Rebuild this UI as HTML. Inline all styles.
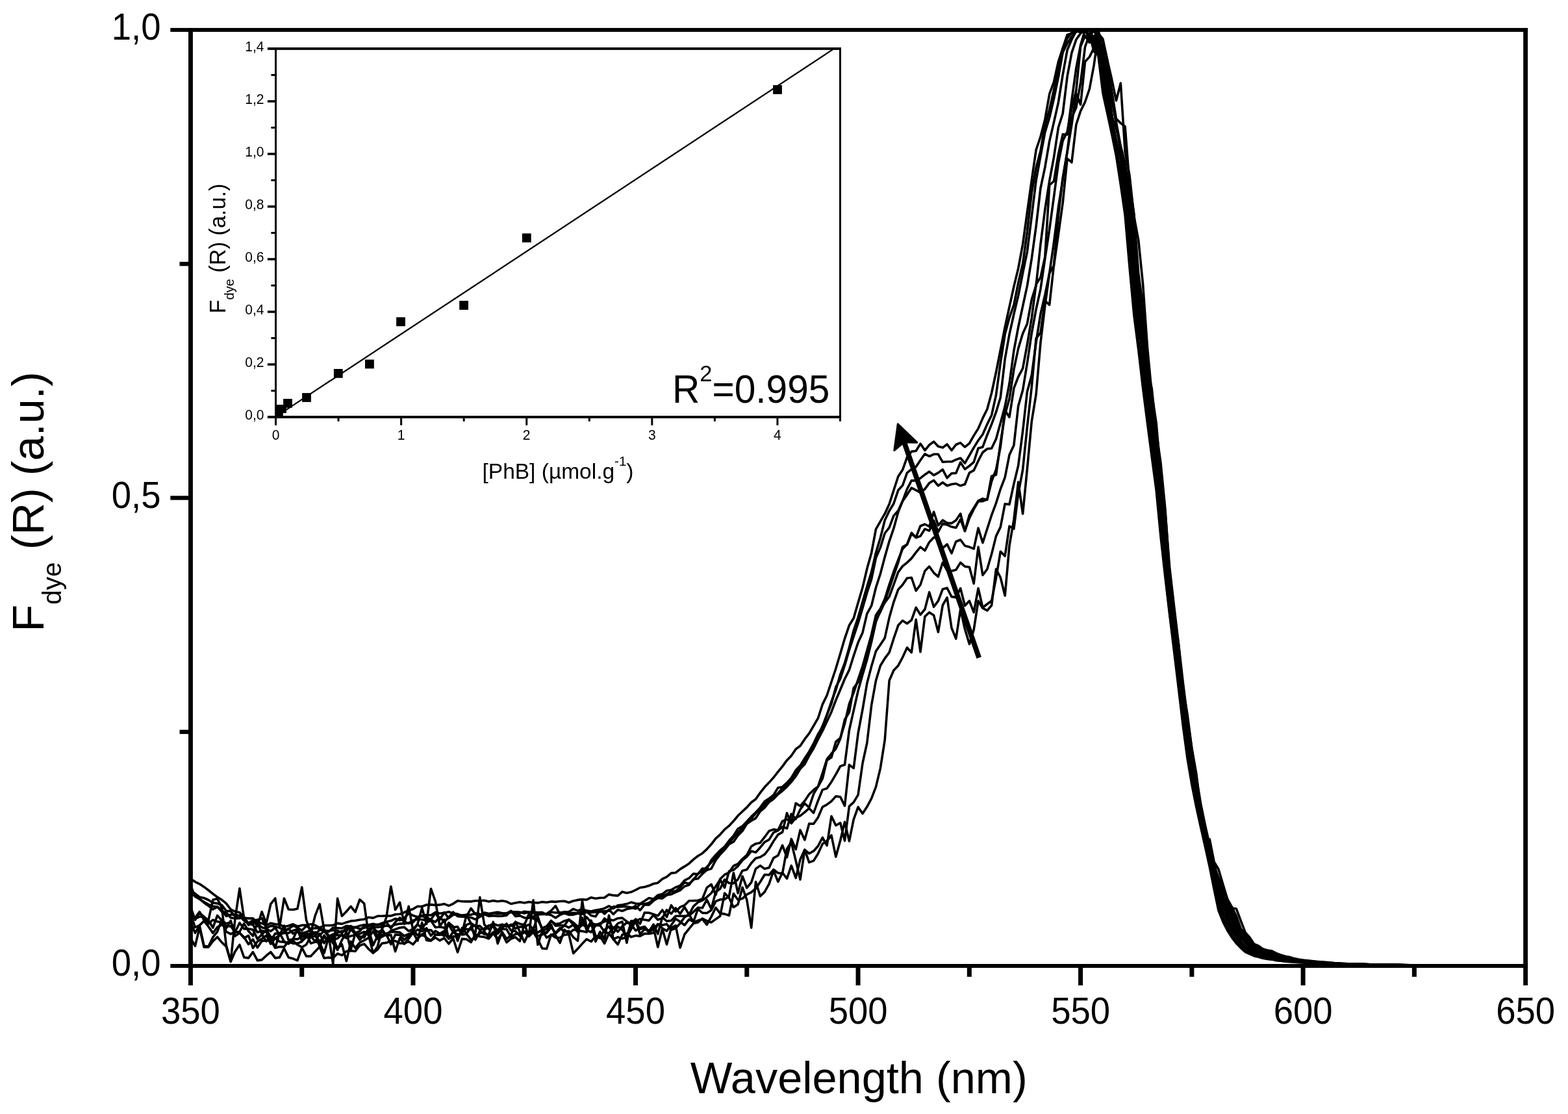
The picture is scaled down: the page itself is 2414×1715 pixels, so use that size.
<!DOCTYPE html>
<html lang="en"><head><meta charset="utf-8"><title>F dye (R) vs Wavelength</title>
<style>html,body{margin:0;padding:0;background:#fff;}body{width:2414px;height:1715px;overflow:hidden;}svg{display:block;}text{font-family:'Liberation Sans', sans-serif;fill:#000;}</style>
</head><body>
<svg width="2414" height="1715" viewBox="0 0 2414 1715">
<rect x="0" y="0" width="2414" height="1715" fill="#fff"/>
<g fill="none" stroke="#000" stroke-width="3.6" stroke-linejoin="round" stroke-linecap="round">
<polyline points="293.5,1352.9 300.4,1357.6 307.2,1360.8 314.1,1365.4 320.9,1370.5 327.8,1376.0 334.6,1381.1 341.5,1385.3 348.3,1390.8 355.2,1400.0 362.0,1403.3 368.9,1404.7 375.7,1413.0 382.6,1413.9 389.4,1413.9 396.3,1420.4 403.1,1421.4 410.0,1424.6 416.8,1421.2 423.7,1422.8 430.5,1423.3 437.4,1426.8 444.2,1425.2 451.1,1422.8 457.9,1426.2 464.8,1424.4 471.6,1424.3 478.5,1422.8 485.3,1424.6 492.2,1428.3 499.0,1424.7 505.9,1424.7 512.7,1424.5 519.6,1421.4 526.4,1422.4 533.3,1419.9 540.1,1417.9 547.0,1417.3 553.8,1416.0 560.7,1415.2 567.5,1412.2 574.4,1413.1 581.2,1410.3 588.1,1410.3 594.9,1409.8 601.8,1410.0 608.6,1407.7 615.5,1407.3 622.3,1404.7 629.2,1401.4 636.0,1399.4 642.9,1395.3 649.7,1395.5 656.6,1393.0 663.4,1392.6 670.3,1393.5 677.1,1392.9 684.0,1391.6 690.8,1394.4 697.7,1391.3 704.5,1386.8 711.4,1387.7 718.2,1387.9 725.1,1387.9 731.9,1386.8 738.8,1386.7 745.6,1386.2 752.5,1388.0 759.3,1386.6 766.2,1387.7 773.0,1386.8 779.9,1388.1 786.7,1391.5 793.6,1390.0 800.4,1388.8 807.3,1390.0 814.2,1388.5 821.0,1389.5 827.9,1389.9 834.7,1388.5 841.6,1389.2 848.4,1387.9 855.3,1388.4 862.1,1387.5 869.0,1387.2 875.8,1389.5 882.7,1386.9 889.5,1385.4 896.4,1384.6 903.2,1385.2 910.1,1381.7 916.9,1383.3 923.8,1382.3 930.6,1382.0 937.5,1377.0 944.3,1378.4 951.2,1378.9 958.0,1372.9 964.9,1374.8 971.7,1373.3 978.6,1370.1 985.4,1366.5 992.3,1365.5 999.1,1363.6 1006.0,1360.5 1012.8,1359.2 1019.7,1353.1 1026.5,1349.9 1033.4,1344.1 1040.2,1343.5 1047.1,1338.1 1053.9,1333.9 1060.8,1329.4 1067.6,1323.1 1074.5,1317.8 1081.3,1313.7 1088.2,1307.4 1095.0,1299.8 1101.9,1290.8 1108.7,1284.8 1115.6,1276.9 1122.4,1271.4 1129.3,1264.0 1136.1,1255.8 1143.0,1249.3 1149.8,1242.9 1156.7,1235.2 1163.5,1230.2 1170.4,1220.4 1177.2,1211.8 1184.1,1204.6 1190.9,1197.0 1197.8,1188.1 1204.6,1179.9 1211.5,1170.4 1218.3,1163.5 1225.2,1153.2 1232.0,1148.3 1238.9,1137.9 1245.7,1129.2 1252.6,1117.3 1259.4,1105.7 1266.3,1084.4 1273.1,1070.5 1280.0,1049.8 1286.8,1029.3 1293.7,1006.2 1300.5,983.1 1307.4,962.8 1314.2,951.7 1321.1,927.7 1328.0,904.6 1334.8,875.6 1341.7,850.9 1348.5,814.6 1355.4,802.6 1362.2,790.9 1369.1,776.0 1375.9,754.7 1382.8,733.5 1389.6,723.3 1396.5,703.9 1403.3,695.1 1410.2,694.2 1417.0,683.1 1423.9,693.3 1430.7,685.0 1437.6,679.9 1444.4,687.3 1451.3,689.1 1458.1,684.0 1465.0,693.3 1471.8,684.5 1478.7,681.7 1485.5,688.2 1492.4,682.7 1499.2,670.6 1506.1,659.6 1512.9,643.9 1519.8,630.0 1526.6,605.0 1533.5,573.0 1540.3,538.7 1547.2,503.6 1554.0,472.3 1560.9,441.1 1567.7,413.1 1574.6,376.2 1581.4,326.7 1588.3,277.4 1595.1,230.8 1602.0,210.2 1608.8,183.9 1615.7,144.7 1622.5,126.0 1629.4,95.0 1636.2,74.1 1643.1,53.5 1649.9,51.4 1656.8,48.1 1663.6,49.5 1670.5,46.0 1677.3,60.5 1684.2,70.6 1691.0,86.8 1697.9,143.4 1704.7,174.1 1711.6,206.0 1718.4,239.6 1725.3,284.3 1732.1,331.5 1739.0,411.4 1745.8,484.9 1752.7,538.6 1759.5,597.1 1766.4,650.9 1773.2,703.0 1780.1,754.6 1786.9,825.7 1793.8,887.7 1800.6,945.7 1807.5,1002.2 1814.3,1058.9 1821.2,1116.7 1828.0,1167.5 1834.9,1208.2 1841.8,1242.7 1848.6,1273.4 1855.5,1303.8 1862.3,1334.8 1869.2,1369.5 1876.0,1401.9 1882.9,1419.2 1889.7,1432.5 1896.6,1443.4 1903.4,1452.2 1910.3,1459.3 1917.1,1465.5 1924.0,1468.6 1930.8,1471.7 1937.7,1473.3 1944.5,1475.2 1951.4,1476.4 1958.2,1477.1 1965.1,1478.7 1971.9,1479.3 1978.8,1480.1 1985.6,1480.7 1992.5,1481.2 1999.3,1481.6 2006.2,1481.9 2013.0,1482.2 2019.9,1482.5 2026.7,1482.7 2033.6,1482.9 2040.4,1483.1 2047.3,1483.3 2054.1,1483.5 2061.0,1483.7 2067.8,1483.9 2074.7,1484.1 2081.5,1484.3 2088.4,1484.5 2095.2,1484.7 2102.1,1484.8 2108.9,1484.9 2115.8,1485.1 2122.6,1485.2 2129.5,1485.3 2136.3,1485.4 2143.2,1485.5 2150.0,1485.6 2156.9,1485.7 2163.7,1485.8 2170.6,1485.9 2177.4,1485.9 2184.3,1486.0 2191.1,1486.0 2198.0,1486.0 2204.8,1486.0 2211.7,1486.0 2218.5,1486.0 2225.4,1486.0 2232.2,1486.0 2239.1,1486.0 2245.9,1486.0 2252.8,1486.0 2259.6,1486.0 2266.5,1486.0 2273.3,1486.0 2280.2,1486.0 2287.0,1486.0 2293.9,1486.0 2300.7,1486.0 2307.6,1486.0 2314.4,1486.0 2321.3,1486.0 2328.1,1486.0 2335.0,1486.0 2341.8,1486.0 2348.7,1486.0"/>
<polyline points="293.5,1372.4 300.4,1375.6 307.2,1381.1 314.1,1382.5 320.9,1385.5 327.8,1389.9 334.6,1390.9 341.5,1393.4 348.3,1402.3 355.2,1402.9 362.0,1410.9 368.9,1409.2 375.7,1412.3 382.6,1424.2 389.4,1417.8 396.3,1416.1 403.1,1413.6 410.0,1428.8 416.8,1425.4 423.7,1426.4 430.5,1428.3 437.4,1432.0 444.2,1430.3 451.1,1425.0 457.9,1427.9 464.8,1432.4 471.6,1425.5 478.5,1430.2 485.3,1428.7 492.2,1429.3 499.0,1431.9 505.9,1434.3 512.7,1428.2 519.6,1428.7 526.4,1429.1 533.3,1425.2 540.1,1426.3 547.0,1428.0 553.8,1425.2 560.7,1423.8 567.5,1423.8 574.4,1422.3 581.2,1424.1 588.1,1421.1 594.9,1418.9 601.8,1417.6 608.6,1414.3 615.5,1416.9 622.3,1413.2 629.2,1406.3 636.0,1409.5 642.9,1411.7 649.7,1409.7 656.6,1408.5 663.4,1409.0 670.3,1404.4 677.1,1406.2 684.0,1405.4 690.8,1403.8 697.7,1406.2 704.5,1407.1 711.4,1410.1 718.2,1410.9 725.1,1398.4 731.9,1407.5 738.8,1409.2 745.6,1405.0 752.5,1406.6 759.3,1405.4 766.2,1404.2 773.0,1405.8 779.9,1406.1 786.7,1404.6 793.6,1403.9 800.4,1404.2 807.3,1405.9 814.2,1404.2 821.0,1404.0 827.9,1404.9 834.7,1404.6 841.6,1408.0 848.4,1404.3 855.3,1405.0 862.1,1405.1 869.0,1404.0 875.8,1403.7 882.7,1399.4 889.5,1402.2 896.4,1399.2 903.2,1402.1 910.1,1403.1 916.9,1401.3 923.8,1400.3 930.6,1398.4 937.5,1394.9 944.3,1398.6 951.2,1393.7 958.0,1393.1 964.9,1391.6 971.7,1389.1 978.6,1391.1 985.4,1391.2 992.3,1387.1 999.1,1382.6 1006.0,1384.0 1012.8,1378.0 1019.7,1376.5 1026.5,1371.3 1033.4,1370.1 1040.2,1366.0 1047.1,1363.5 1053.9,1355.3 1060.8,1351.9 1067.6,1345.1 1074.5,1345.7 1081.3,1337.1 1088.2,1337.6 1095.0,1324.2 1101.9,1316.3 1108.7,1309.2 1115.6,1303.4 1122.4,1294.2 1129.3,1286.6 1136.1,1276.1 1143.0,1271.7 1149.8,1264.7 1156.7,1257.1 1163.5,1250.7 1170.4,1243.1 1177.2,1233.8 1184.1,1229.3 1190.9,1223.9 1197.8,1212.7 1204.6,1211.4 1211.5,1205.1 1218.3,1197.4 1225.2,1185.8 1232.0,1178.6 1238.9,1167.4 1245.7,1157.2 1252.6,1144.5 1259.4,1130.2 1266.3,1119.5 1273.1,1100.5 1280.0,1080.0 1286.8,1062.2 1293.7,1038.3 1300.5,1020.6 1307.4,997.0 1314.2,970.8 1321.1,950.6 1328.0,926.6 1334.8,903.0 1341.7,880.3 1348.5,850.7 1355.4,828.0 1362.2,801.0 1369.1,786.5 1375.9,775.2 1382.8,754.7 1389.6,747.3 1396.5,727.9 1403.3,722.4 1410.2,718.7 1417.0,708.5 1423.9,698.8 1430.7,702.5 1437.6,699.3 1444.4,699.3 1451.3,711.3 1458.1,710.8 1465.0,710.8 1471.8,707.6 1478.7,705.3 1485.5,713.1 1492.4,701.1 1499.2,689.1 1506.1,678.0 1512.9,668.8 1519.8,653.1 1526.6,639.2 1533.5,608.1 1540.3,558.6 1547.2,514.4 1554.0,489.1 1560.9,469.3 1567.7,435.3 1574.6,405.9 1581.4,356.9 1588.3,296.8 1595.1,258.4 1602.0,232.1 1608.8,192.5 1615.7,168.9 1622.5,138.5 1629.4,105.6 1636.2,74.5 1643.1,59.1 1649.9,50.4 1656.8,49.0 1663.6,46.0 1670.5,48.0 1677.3,52.5 1684.2,79.4 1691.0,83.7 1697.9,133.8 1704.7,169.6 1711.6,203.0 1718.4,236.9 1725.3,271.8 1732.1,319.6 1739.0,395.7 1745.8,475.6 1752.7,531.7 1759.5,588.2 1766.4,639.5 1773.2,690.9 1780.1,747.2 1786.9,819.1 1793.8,879.9 1800.6,942.5 1807.5,995.4 1814.3,1050.9 1821.2,1109.8 1828.0,1163.6 1834.9,1202.8 1841.8,1238.7 1848.6,1270.2 1855.5,1301.9 1862.3,1328.1 1869.2,1362.1 1876.0,1391.3 1882.9,1412.8 1889.7,1427.5 1896.6,1439.9 1903.4,1450.0 1910.3,1456.4 1917.1,1463.4 1924.0,1467.3 1930.8,1469.4 1937.7,1472.5 1944.5,1474.0 1951.4,1475.9 1958.2,1476.8 1965.1,1478.0 1971.9,1479.2 1978.8,1479.6 1985.6,1480.3 1992.5,1480.9 1999.3,1481.3 2006.2,1481.7 2013.0,1482.1 2019.9,1482.4 2026.7,1482.6 2033.6,1482.9 2040.4,1483.1 2047.3,1483.3 2054.1,1483.5 2061.0,1483.7 2067.8,1483.9 2074.7,1484.1 2081.5,1484.3 2088.4,1484.5 2095.2,1484.6 2102.1,1484.8 2108.9,1484.9 2115.8,1485.0 2122.6,1485.1 2129.5,1485.3 2136.3,1485.4 2143.2,1485.5 2150.0,1485.6 2156.9,1485.7 2163.7,1485.8 2170.6,1485.9 2177.4,1485.9 2184.3,1486.0 2191.1,1486.0 2198.0,1486.0 2204.8,1486.0 2211.7,1486.0 2218.5,1486.0 2225.4,1486.0 2232.2,1486.0 2239.1,1486.0 2245.9,1486.0 2252.8,1486.0 2259.6,1486.0 2266.5,1486.0 2273.3,1486.0 2280.2,1486.0 2287.0,1486.0 2293.9,1486.0 2300.7,1486.0 2307.6,1486.0 2314.4,1486.0 2321.3,1486.0 2328.1,1486.0 2335.0,1486.0 2341.8,1486.0 2348.7,1486.0"/>
<polyline points="293.5,1375.6 300.4,1379.5 307.2,1384.3 314.1,1388.5 320.9,1392.4 327.8,1395.3 334.6,1396.0 341.5,1400.8 348.3,1410.5 355.2,1408.1 362.0,1407.9 368.9,1410.0 375.7,1417.3 382.6,1422.1 389.4,1421.3 396.3,1421.2 403.1,1427.7 410.0,1429.8 416.8,1433.7 423.7,1428.2 430.5,1439.7 437.4,1434.9 444.2,1429.7 451.1,1437.4 457.9,1434.8 464.8,1436.4 471.6,1435.0 478.5,1431.5 485.3,1438.5 492.2,1431.3 499.0,1432.9 505.9,1433.3 512.7,1432.0 519.6,1432.5 526.4,1436.5 533.3,1428.0 540.1,1430.9 547.0,1427.1 553.8,1430.0 560.7,1428.5 567.5,1425.4 574.4,1424.3 581.2,1423.3 588.1,1423.7 594.9,1419.7 601.8,1429.1 608.6,1419.6 615.5,1412.8 622.3,1419.1 629.2,1421.6 636.0,1419.7 642.9,1411.8 649.7,1410.4 656.6,1412.1 663.4,1415.8 670.3,1405.4 677.1,1415.8 684.0,1404.7 690.8,1413.6 697.7,1408.3 704.5,1408.3 711.4,1409.0 718.2,1408.3 725.1,1408.2 731.9,1406.1 738.8,1407.2 745.6,1407.9 752.5,1409.1 759.3,1405.4 766.2,1406.8 773.0,1406.3 779.9,1406.2 786.7,1402.6 793.6,1406.9 800.4,1405.9 807.3,1403.3 814.2,1404.4 821.0,1405.4 827.9,1405.9 834.7,1407.3 841.6,1406.8 848.4,1402.1 855.3,1394.6 862.1,1407.9 869.0,1403.7 875.8,1406.4 882.7,1405.2 889.5,1406.0 896.4,1403.1 903.2,1404.4 910.1,1404.7 916.9,1404.3 923.8,1403.8 930.6,1402.9 937.5,1402.2 944.3,1395.9 951.2,1396.1 958.0,1395.6 964.9,1395.7 971.7,1397.0 978.6,1399.1 985.4,1391.8 992.3,1391.8 999.1,1390.0 1006.0,1384.8 1012.8,1379.2 1019.7,1379.8 1026.5,1376.5 1033.4,1372.5 1040.2,1371.9 1047.1,1366.1 1053.9,1358.4 1060.8,1360.7 1067.6,1354.7 1074.5,1345.0 1081.3,1341.7 1088.2,1334.7 1095.0,1327.8 1101.9,1320.2 1108.7,1310.9 1115.6,1306.7 1122.4,1298.1 1129.3,1289.3 1136.1,1282.3 1143.0,1274.3 1149.8,1267.2 1156.7,1260.3 1163.5,1252.2 1170.4,1245.3 1177.2,1238.7 1184.1,1231.2 1190.9,1225.5 1197.8,1221.4 1204.6,1212.9 1211.5,1209.5 1218.3,1199.2 1225.2,1191.0 1232.0,1182.0 1238.9,1172.6 1245.7,1161.4 1252.6,1148.6 1259.4,1132.9 1266.3,1117.6 1273.1,1100.5 1280.0,1083.2 1286.8,1057.7 1293.7,1045.0 1300.5,1024.3 1307.4,1000.6 1314.2,979.9 1321.1,959.2 1328.0,936.0 1334.8,912.4 1341.7,891.5 1348.5,858.9 1355.4,842.9 1362.2,821.0 1369.1,812.2 1375.9,793.9 1382.8,786.3 1389.6,771.3 1396.5,752.9 1403.3,739.9 1410.2,739.9 1417.0,736.2 1423.9,730.7 1430.7,726.1 1437.6,731.6 1444.4,727.9 1451.3,722.8 1458.1,735.8 1465.0,728.8 1471.8,728.4 1478.7,711.8 1485.5,722.4 1492.4,717.3 1499.2,711.3 1506.1,690.0 1512.9,688.2 1519.8,669.7 1526.6,653.1 1533.5,634.4 1540.3,611.7 1547.2,552.5 1554.0,514.7 1560.9,483.5 1567.7,455.1 1574.6,420.5 1581.4,387.6 1588.3,333.0 1595.1,277.6 1602.0,240.0 1608.8,203.6 1615.7,181.0 1622.5,151.9 1629.4,118.7 1636.2,80.6 1643.1,66.7 1649.9,56.6 1656.8,48.5 1663.6,46.7 1670.5,47.6 1677.3,46.1 1684.2,65.9 1691.0,82.7 1697.9,116.9 1704.7,157.3 1711.6,192.2 1718.4,229.8 1725.3,263.5 1732.1,307.6 1739.0,370.5 1745.8,452.4 1752.7,524.7 1759.5,568.3 1766.4,621.6 1773.2,679.1 1780.1,735.0 1786.9,802.7 1793.8,865.9 1800.6,926.2 1807.5,987.5 1814.3,1041.3 1821.2,1099.6 1828.0,1152.3 1834.9,1195.1 1841.8,1231.8 1848.6,1259.2 1855.5,1295.8 1862.3,1324.5 1869.2,1350.1 1876.0,1381.1 1882.9,1404.3 1889.7,1419.9 1896.6,1433.5 1903.4,1444.3 1910.3,1453.1 1917.1,1459.1 1924.0,1464.2 1930.8,1467.3 1937.7,1469.1 1944.5,1471.9 1951.4,1474.7 1958.2,1475.7 1965.1,1477.0 1971.9,1478.3 1978.8,1479.3 1985.6,1479.7 1992.5,1480.3 1999.3,1480.9 2006.2,1481.4 2013.0,1481.8 2019.9,1482.1 2026.7,1482.4 2033.6,1482.7 2040.4,1483.0 2047.3,1483.2 2054.1,1483.4 2061.0,1483.7 2067.8,1483.9 2074.7,1484.1 2081.5,1484.2 2088.4,1484.4 2095.2,1484.6 2102.1,1484.7 2108.9,1484.9 2115.8,1485.0 2122.6,1485.1 2129.5,1485.2 2136.3,1485.4 2143.2,1485.5 2150.0,1485.6 2156.9,1485.7 2163.7,1485.8 2170.6,1485.9 2177.4,1485.9 2184.3,1486.0 2191.1,1486.0 2198.0,1486.0 2204.8,1486.0 2211.7,1486.0 2218.5,1486.0 2225.4,1486.0 2232.2,1486.0 2239.1,1486.0 2245.9,1486.0 2252.8,1486.0 2259.6,1486.0 2266.5,1486.0 2273.3,1486.0 2280.2,1486.0 2287.0,1486.0 2293.9,1486.0 2300.7,1486.0 2307.6,1486.0 2314.4,1486.0 2321.3,1486.0 2328.1,1486.0 2335.0,1486.0 2341.8,1486.0 2348.7,1486.0"/>
<polyline points="293.5,1363.1 300.4,1380.4 307.2,1383.7 314.1,1389.7 320.9,1394.4 327.8,1400.0 334.6,1396.1 341.5,1403.6 348.3,1404.8 355.2,1412.7 362.0,1413.9 368.9,1413.7 375.7,1411.9 382.6,1421.9 389.4,1423.7 396.3,1435.4 403.1,1432.8 410.0,1434.7 416.8,1448.3 423.7,1437.1 430.5,1437.8 437.4,1436.5 444.2,1436.4 451.1,1432.7 457.9,1430.4 464.8,1440.4 471.6,1439.2 478.5,1437.4 485.3,1435.1 492.2,1439.7 499.0,1433.2 505.9,1442.0 512.7,1438.4 519.6,1435.9 526.4,1433.5 533.3,1433.5 540.1,1425.6 547.0,1436.3 553.8,1433.5 560.7,1426.0 567.5,1429.8 574.4,1427.3 581.2,1427.5 588.1,1426.8 594.9,1424.9 601.8,1426.4 608.6,1423.4 615.5,1422.1 622.3,1421.6 629.2,1421.1 636.0,1417.0 642.9,1415.2 649.7,1415.8 656.6,1417.0 663.4,1416.2 670.3,1419.3 677.1,1412.0 684.0,1419.0 690.8,1412.4 697.7,1404.2 704.5,1410.7 711.4,1411.2 718.2,1411.5 725.1,1412.5 731.9,1415.4 738.8,1411.5 745.6,1407.6 752.5,1410.4 759.3,1409.8 766.2,1410.4 773.0,1410.1 779.9,1409.2 786.7,1402.3 793.6,1410.6 800.4,1409.6 807.3,1412.9 814.2,1413.1 821.0,1411.3 827.9,1407.9 834.7,1407.4 841.6,1407.3 848.4,1408.8 855.3,1413.0 862.1,1408.4 869.0,1406.1 875.8,1408.4 882.7,1408.1 889.5,1406.3 896.4,1407.1 903.2,1403.5 910.1,1409.5 916.9,1410.9 923.8,1400.2 930.6,1406.9 937.5,1400.2 944.3,1407.4 951.2,1400.5 958.0,1402.5 964.9,1399.5 971.7,1398.3 978.6,1394.6 985.4,1401.3 992.3,1392.7 999.1,1393.2 1006.0,1386.7 1012.8,1382.4 1019.7,1383.1 1026.5,1378.0 1033.4,1376.8 1040.2,1373.5 1047.1,1370.6 1053.9,1364.5 1060.8,1362.4 1067.6,1353.4 1074.5,1352.8 1081.3,1345.4 1088.2,1339.5 1095.0,1337.4 1101.9,1324.2 1108.7,1315.4 1115.6,1308.3 1122.4,1299.6 1129.3,1296.0 1136.1,1286.3 1143.0,1279.2 1149.8,1268.2 1156.7,1263.5 1163.5,1259.6 1170.4,1249.0 1177.2,1243.3 1184.1,1234.7 1190.9,1230.0 1197.8,1222.7 1204.6,1217.5 1211.5,1211.1 1218.3,1203.6 1225.2,1194.8 1232.0,1183.5 1238.9,1176.4 1245.7,1163.3 1252.6,1152.0 1259.4,1138.1 1266.3,1125.2 1273.1,1110.8 1280.0,1095.9 1286.8,1078.0 1293.7,1061.7 1300.5,1045.3 1307.4,1031.4 1314.2,1009.7 1321.1,989.1 1328.0,973.9 1334.8,944.9 1341.7,932.4 1348.5,904.5 1355.4,883.2 1362.2,857.5 1369.1,833.3 1375.9,813.4 1382.8,788.3 1389.6,771.4 1396.5,761.6 1403.3,751.0 1410.2,754.7 1417.0,758.4 1423.9,752.9 1430.7,743.6 1437.6,739.5 1444.4,747.8 1451.3,742.7 1458.1,747.8 1465.0,745.5 1471.8,744.5 1478.7,747.8 1485.5,745.5 1492.4,727.9 1499.2,724.2 1506.1,709.4 1512.9,696.5 1519.8,691.0 1526.6,690.3 1533.5,675.8 1540.3,651.3 1547.2,625.5 1554.0,590.4 1560.9,539.8 1567.7,503.5 1574.6,471.4 1581.4,440.1 1588.3,398.1 1595.1,348.5 1602.0,289.5 1608.8,257.6 1615.7,217.3 1622.5,188.2 1629.4,157.6 1636.2,114.9 1643.1,77.0 1649.9,60.9 1656.8,47.6 1663.6,46.0 1670.5,46.7 1677.3,57.7 1684.2,64.9 1691.0,72.9 1697.9,100.3 1704.7,149.2 1711.6,182.8 1718.4,215.2 1725.3,246.1 1732.1,291.3 1739.0,343.3 1745.8,431.8 1752.7,499.5 1759.5,549.0 1766.4,607.3 1773.2,663.4 1780.1,721.0 1786.9,792.1 1793.8,861.7 1800.6,919.2 1807.5,975.8 1814.3,1031.6 1821.2,1089.0 1828.0,1141.5 1834.9,1191.3 1841.8,1228.0 1848.6,1260.2 1855.5,1291.1 1862.3,1321.1 1869.2,1342.6 1876.0,1372.2 1882.9,1394.5 1889.7,1412.4 1896.6,1427.3 1903.4,1440.3 1910.3,1449.6 1917.1,1456.3 1924.0,1460.6 1930.8,1465.3 1937.7,1468.1 1944.5,1470.2 1951.4,1473.1 1958.2,1474.4 1965.1,1475.5 1971.9,1477.0 1978.8,1478.0 1985.6,1479.1 1992.5,1479.7 1999.3,1480.4 2006.2,1481.0 2013.0,1481.4 2019.9,1481.9 2026.7,1482.2 2033.6,1482.6 2040.4,1482.9 2047.3,1483.1 2054.1,1483.4 2061.0,1483.6 2067.8,1483.8 2074.7,1484.0 2081.5,1484.2 2088.4,1484.4 2095.2,1484.5 2102.1,1484.7 2108.9,1484.8 2115.8,1485.0 2122.6,1485.1 2129.5,1485.2 2136.3,1485.3 2143.2,1485.4 2150.0,1485.5 2156.9,1485.7 2163.7,1485.7 2170.6,1485.8 2177.4,1485.9 2184.3,1486.0 2191.1,1486.0 2198.0,1486.0 2204.8,1486.0 2211.7,1486.0 2218.5,1486.0 2225.4,1486.0 2232.2,1486.0 2239.1,1486.0 2245.9,1486.0 2252.8,1486.0 2259.6,1486.0 2266.5,1486.0 2273.3,1486.0 2280.2,1486.0 2287.0,1486.0 2293.9,1486.0 2300.7,1486.0 2307.6,1486.0 2314.4,1486.0 2321.3,1486.0 2328.1,1486.0 2335.0,1486.0 2341.8,1486.0 2348.7,1486.0"/>
<polyline points="293.5,1396.1 300.4,1416.2 307.2,1405.3 314.1,1411.3 320.9,1416.8 327.8,1428.3 334.6,1409.4 341.5,1417.0 348.3,1422.0 355.2,1419.6 362.0,1434.7 368.9,1420.7 375.7,1430.0 382.6,1429.9 389.4,1431.3 396.3,1445.6 403.1,1438.8 410.0,1431.5 416.8,1442.3 423.7,1444.3 430.5,1439.8 437.4,1425.0 444.2,1447.2 451.1,1445.9 457.9,1431.0 464.8,1448.5 471.6,1443.1 478.5,1441.2 485.3,1449.7 492.2,1437.3 499.0,1452.0 505.9,1440.9 512.7,1441.6 519.6,1439.2 526.4,1440.5 533.3,1444.2 540.1,1430.6 547.0,1438.4 553.8,1441.8 560.7,1443.2 567.5,1431.1 574.4,1429.0 581.2,1434.7 588.1,1433.1 594.9,1440.1 601.8,1432.7 608.6,1430.6 615.5,1428.3 622.3,1427.4 629.2,1433.4 636.0,1430.1 642.9,1423.2 649.7,1429.2 656.6,1420.2 663.4,1417.1 670.3,1427.7 677.1,1427.0 684.0,1428.3 690.8,1423.5 697.7,1435.3 704.5,1438.4 711.4,1437.1 718.2,1423.6 725.1,1421.1 731.9,1426.0 738.8,1425.4 745.6,1432.6 752.5,1425.6 759.3,1422.0 766.2,1424.7 773.0,1423.5 779.9,1424.5 786.7,1425.3 793.6,1419.8 800.4,1422.2 807.3,1424.1 814.2,1407.2 821.0,1414.3 827.9,1416.1 834.7,1428.9 841.6,1426.0 848.4,1417.7 855.3,1422.8 862.1,1421.5 869.0,1417.7 875.8,1415.9 882.7,1420.2 889.5,1426.5 896.4,1422.1 903.2,1411.9 910.1,1420.2 916.9,1424.1 923.8,1421.5 930.6,1418.9 937.5,1415.4 944.3,1416.9 951.2,1413.7 958.0,1413.1 964.9,1418.7 971.7,1422.4 978.6,1414.9 985.4,1422.2 992.3,1405.1 999.1,1405.3 1006.0,1407.4 1012.8,1409.9 1019.7,1401.0 1026.5,1411.7 1033.4,1393.7 1040.2,1403.4 1047.1,1396.4 1053.9,1393.8 1060.8,1386.7 1067.6,1386.6 1074.5,1386.3 1081.3,1384.0 1088.2,1366.7 1095.0,1361.3 1101.9,1377.7 1108.7,1353.2 1115.6,1346.5 1122.4,1343.4 1129.3,1333.0 1136.1,1330.0 1143.0,1322.3 1149.8,1316.4 1156.7,1303.0 1163.5,1298.9 1170.4,1297.4 1177.2,1288.7 1184.1,1279.2 1190.9,1276.9 1197.8,1278.0 1204.6,1264.1 1211.5,1261.2 1218.3,1266.8 1225.2,1236.5 1232.0,1240.9 1238.9,1232.9 1245.7,1222.7 1252.6,1216.0 1259.4,1211.0 1266.3,1198.7 1273.1,1170.4 1280.0,1165.9 1286.8,1142.0 1293.7,1136.2 1300.5,1114.0 1307.4,1083.7 1314.2,1066.6 1321.1,1046.0 1328.0,1025.6 1334.8,1001.6 1341.7,976.7 1348.5,947.0 1355.4,937.0 1362.2,922.0 1369.1,900.0 1375.9,880.0 1382.8,862.0 1389.6,845.0 1396.5,838.0 1403.3,820.3 1410.2,827.3 1417.0,809.7 1423.9,807.0 1430.7,810.6 1437.6,788.0 1444.4,808.8 1451.3,800.9 1458.1,805.1 1465.0,805.6 1471.8,800.9 1478.7,790.8 1485.5,817.6 1492.4,793.1 1499.2,782.0 1506.1,770.9 1512.9,767.7 1519.8,769.4 1526.6,732.9 1533.5,731.0 1540.3,681.8 1547.2,637.9 1554.0,613.9 1560.9,568.7 1567.7,536.5 1574.6,513.6 1581.4,498.4 1588.3,461.0 1595.1,439.4 1602.0,375.9 1608.8,322.8 1615.7,278.3 1622.5,242.0 1629.4,196.2 1636.2,174.8 1643.1,117.8 1649.9,81.3 1656.8,61.0 1663.6,51.4 1670.5,46.0 1677.3,56.7 1684.2,46.0 1691.0,65.4 1697.9,87.4 1704.7,124.0 1711.6,173.3 1718.4,224.6 1725.3,236.4 1732.1,283.7 1739.0,328.0 1745.8,407.7 1752.7,480.0 1759.5,539.9 1766.4,590.9 1773.2,647.6 1780.1,723.0 1786.9,770.8 1793.8,848.9 1800.6,912.7 1807.5,966.1 1814.3,1020.7 1821.2,1077.7 1828.0,1135.6 1834.9,1183.0 1841.8,1219.0 1848.6,1252.3 1855.5,1286.0 1862.3,1312.9 1869.2,1339.0 1876.0,1363.8 1882.9,1389.4 1889.7,1405.3 1896.6,1419.9 1903.4,1435.3 1910.3,1444.8 1917.1,1451.2 1924.0,1458.6 1930.8,1462.2 1937.7,1465.6 1944.5,1467.9 1951.4,1472.7 1958.2,1472.7 1965.1,1475.1 1971.9,1476.1 1978.8,1477.2 1985.6,1478.3 1992.5,1479.0 1999.3,1479.9 2006.2,1480.5 2013.0,1481.0 2019.9,1481.5 2026.7,1481.9 2033.6,1482.3 2040.4,1482.7 2047.3,1483.0 2054.1,1483.3 2061.0,1483.5 2067.8,1483.8 2074.7,1484.0 2081.5,1484.2 2088.4,1484.3 2095.2,1484.5 2102.1,1484.7 2108.9,1484.8 2115.8,1484.9 2122.6,1485.0 2129.5,1485.2 2136.3,1485.3 2143.2,1485.4 2150.0,1485.5 2156.9,1485.6 2163.7,1485.7 2170.6,1485.8 2177.4,1485.9 2184.3,1485.9 2191.1,1486.0 2198.0,1486.0 2204.8,1486.0 2211.7,1486.0 2218.5,1486.0 2225.4,1486.0 2232.2,1486.0 2239.1,1486.0 2245.9,1486.0 2252.8,1486.0 2259.6,1486.0 2266.5,1486.0 2273.3,1486.0 2280.2,1486.0 2287.0,1486.0 2293.9,1486.0 2300.7,1486.0 2307.6,1486.0 2314.4,1486.0 2321.3,1486.0 2328.1,1486.0 2335.0,1486.0 2341.8,1486.0 2348.7,1486.0"/>
<polyline points="293.5,1409.8 300.4,1414.3 307.2,1411.3 314.1,1411.3 320.9,1422.1 327.8,1416.2 334.6,1418.8 341.5,1419.8 348.3,1426.2 355.2,1425.7 362.0,1435.3 368.9,1434.5 375.7,1421.8 382.6,1433.5 389.4,1440.9 396.3,1419.5 403.1,1438.2 410.0,1449.3 416.8,1442.6 423.7,1459.0 430.5,1436.5 437.4,1449.3 444.2,1452.7 451.1,1445.5 457.9,1445.9 464.8,1442.3 471.6,1435.9 478.5,1439.8 485.3,1435.8 492.2,1457.6 499.0,1440.0 505.9,1449.0 512.7,1446.8 519.6,1444.7 526.4,1438.6 533.3,1443.8 540.1,1440.9 547.0,1439.3 553.8,1437.7 560.7,1434.5 567.5,1439.8 574.4,1423.0 581.2,1444.2 588.1,1439.8 594.9,1437.3 601.8,1434.8 608.6,1434.8 615.5,1435.3 622.3,1441.0 629.2,1437.9 636.0,1436.5 642.9,1431.1 649.7,1433.6 656.6,1429.0 663.4,1440.5 670.3,1433.2 677.1,1437.3 684.0,1433.4 690.8,1420.8 697.7,1426.2 704.5,1448.6 711.4,1428.5 718.2,1437.4 725.1,1427.0 731.9,1424.5 738.8,1431.4 745.6,1429.4 752.5,1424.7 759.3,1424.7 766.2,1433.0 773.0,1423.1 779.9,1426.7 786.7,1423.3 793.6,1429.6 800.4,1426.7 807.3,1426.9 814.2,1423.3 821.0,1430.9 827.9,1410.6 834.7,1431.7 841.6,1430.4 848.4,1417.4 855.3,1425.2 862.1,1424.7 869.0,1424.6 875.8,1415.5 882.7,1423.7 889.5,1430.0 896.4,1423.9 903.2,1426.3 910.1,1424.7 916.9,1423.1 923.8,1424.5 930.6,1414.0 937.5,1419.1 944.3,1429.9 951.2,1421.7 958.0,1418.9 964.9,1451.4 971.7,1417.7 978.6,1417.7 985.4,1414.9 992.3,1416.0 999.1,1417.1 1006.0,1408.7 1012.8,1416.0 1019.7,1413.6 1026.5,1400.8 1033.4,1406.7 1040.2,1398.0 1047.1,1406.8 1053.9,1396.5 1060.8,1408.0 1067.6,1395.3 1074.5,1389.0 1081.3,1386.2 1088.2,1381.1 1095.0,1375.0 1101.9,1364.4 1108.7,1354.2 1115.6,1366.5 1122.4,1341.2 1129.3,1339.3 1136.1,1333.5 1143.0,1324.4 1149.8,1318.9 1156.7,1310.3 1163.5,1312.2 1170.4,1304.7 1177.2,1296.4 1184.1,1292.6 1190.9,1281.6 1197.8,1278.5 1204.6,1272.9 1211.5,1275.4 1218.3,1253.0 1225.2,1260.8 1232.0,1246.2 1238.9,1236.7 1245.7,1243.2 1252.6,1222.1 1259.4,1210.9 1266.3,1190.4 1273.1,1168.7 1280.0,1160.3 1286.8,1152.7 1293.7,1137.2 1300.5,1107.8 1307.4,1096.5 1314.2,1059.0 1321.1,1050.0 1328.0,1031.0 1334.8,1008.0 1341.7,983.0 1348.5,955.0 1355.4,942.0 1362.2,926.0 1369.1,906.0 1375.9,886.0 1382.8,866.0 1389.6,842.1 1396.5,838.4 1403.3,821.7 1410.2,827.7 1417.0,825.4 1423.9,814.3 1430.7,817.1 1437.6,801.4 1444.4,819.0 1451.3,806.0 1458.1,807.9 1465.0,811.1 1471.8,812.5 1478.7,799.6 1485.5,817.6 1492.4,797.7 1499.2,783.9 1506.1,771.8 1512.9,771.7 1519.8,768.9 1526.6,741.0 1533.5,723.0 1540.3,688.0 1547.2,631.6 1554.0,642.2 1560.9,597.7 1567.7,580.2 1574.6,567.2 1581.4,530.3 1588.3,489.7 1595.1,437.8 1602.0,426.9 1608.8,395.6 1615.7,284.8 1622.5,279.0 1629.4,237.3 1636.2,206.9 1643.1,207.3 1649.9,154.5 1656.8,105.0 1663.6,69.5 1670.5,46.0 1677.3,46.0 1684.2,60.7 1691.0,53.4 1697.9,61.3 1704.7,143.3 1711.6,180.0 1718.4,196.9 1725.3,228.0 1732.1,268.5 1739.0,318.8 1745.8,385.0 1752.7,468.3 1759.5,517.0 1766.4,579.9 1773.2,634.3 1780.1,693.2 1786.9,754.1 1793.8,838.6 1800.6,903.9 1807.5,952.1 1814.3,1013.5 1821.2,1071.2 1828.0,1127.5 1834.9,1176.4 1841.8,1214.4 1848.6,1248.2 1855.5,1279.3 1862.3,1313.5 1869.2,1341.8 1876.0,1361.6 1882.9,1381.7 1889.7,1400.5 1896.6,1412.0 1903.4,1429.8 1910.3,1441.5 1917.1,1450.9 1924.0,1456.1 1930.8,1460.5 1937.7,1462.9 1944.5,1466.4 1951.4,1469.1 1958.2,1471.8 1965.1,1473.3 1971.9,1475.0 1978.8,1476.4 1985.6,1477.1 1992.5,1478.8 1999.3,1479.6 2006.2,1480.0 2013.0,1480.6 2019.9,1481.2 2026.7,1481.7 2033.6,1482.1 2040.4,1482.5 2047.3,1482.9 2054.1,1483.2 2061.0,1483.5 2067.8,1483.7 2074.7,1483.9 2081.5,1484.1 2088.4,1484.3 2095.2,1484.5 2102.1,1484.6 2108.9,1484.8 2115.8,1484.9 2122.6,1485.0 2129.5,1485.1 2136.3,1485.3 2143.2,1485.4 2150.0,1485.5 2156.9,1485.6 2163.7,1485.7 2170.6,1485.8 2177.4,1485.9 2184.3,1485.9 2191.1,1486.0 2198.0,1486.0 2204.8,1486.0 2211.7,1486.0 2218.5,1486.0 2225.4,1486.0 2232.2,1486.0 2239.1,1486.0 2245.9,1486.0 2252.8,1486.0 2259.6,1486.0 2266.5,1486.0 2273.3,1486.0 2280.2,1486.0 2287.0,1486.0 2293.9,1486.0 2300.7,1486.0 2307.6,1486.0 2314.4,1486.0 2321.3,1486.0 2328.1,1486.0 2335.0,1486.0 2341.8,1486.0 2348.7,1486.0"/>
<polyline points="293.5,1407.6 300.4,1427.6 307.2,1424.6 314.1,1417.8 320.9,1426.4 327.8,1436.5 334.6,1427.3 341.5,1423.7 348.3,1429.1 355.2,1417.4 362.0,1441.1 368.9,1436.2 375.7,1444.1 382.6,1440.3 389.4,1459.5 396.3,1449.5 403.1,1445.4 410.0,1440.1 416.8,1453.1 423.7,1444.3 430.5,1449.6 437.4,1450.3 444.2,1452.8 451.1,1448.3 457.9,1454.3 464.8,1458.2 471.6,1454.2 478.5,1441.5 485.3,1441.1 492.2,1448.8 499.0,1443.1 505.9,1447.0 512.7,1443.1 519.6,1460.5 526.4,1453.7 533.3,1479.6 540.1,1449.4 547.0,1459.5 553.8,1451.1 560.7,1447.6 567.5,1443.7 574.4,1433.7 581.2,1445.7 588.1,1442.2 594.9,1438.4 601.8,1453.8 608.6,1438.9 615.5,1439.4 622.3,1447.0 629.2,1440.5 636.0,1431.9 642.9,1439.8 649.7,1440.3 656.6,1432.1 663.4,1431.7 670.3,1439.1 677.1,1437.4 684.0,1441.0 690.8,1420.5 697.7,1427.7 704.5,1426.6 711.4,1438.9 718.2,1437.9 725.1,1446.7 731.9,1444.3 738.8,1436.9 745.6,1434.4 752.5,1442.8 759.3,1435.0 766.2,1437.2 773.0,1430.1 779.9,1430.5 786.7,1442.4 793.6,1438.1 800.4,1436.8 807.3,1434.1 814.2,1434.6 821.0,1430.9 827.9,1435.6 834.7,1431.6 841.6,1443.5 848.4,1439.3 855.3,1437.3 862.1,1430.9 869.0,1424.6 875.8,1428.1 882.7,1423.4 889.5,1435.2 896.4,1412.9 903.2,1432.2 910.1,1435.0 916.9,1424.7 923.8,1424.4 930.6,1434.8 937.5,1437.0 944.3,1427.7 951.2,1434.4 958.0,1426.0 964.9,1420.3 971.7,1422.9 978.6,1432.6 985.4,1428.5 992.3,1426.5 999.1,1434.2 1006.0,1423.1 1012.8,1437.8 1019.7,1412.1 1026.5,1418.1 1033.4,1417.3 1040.2,1410.3 1047.1,1410.2 1053.9,1410.2 1060.8,1409.5 1067.6,1403.9 1074.5,1397.2 1081.3,1397.8 1088.2,1385.1 1095.0,1399.1 1101.9,1373.3 1108.7,1368.2 1115.6,1354.1 1122.4,1359.5 1129.3,1359.9 1136.1,1353.8 1143.0,1340.4 1149.8,1338.7 1156.7,1328.7 1163.5,1321.2 1170.4,1319.5 1177.2,1315.3 1184.1,1306.5 1190.9,1295.0 1197.8,1284.9 1204.6,1281.2 1211.5,1251.7 1218.3,1267.6 1225.2,1258.9 1232.0,1255.8 1238.9,1250.3 1245.7,1244.4 1252.6,1251.5 1259.4,1232.7 1266.3,1215.9 1273.1,1213.7 1280.0,1203.7 1286.8,1192.2 1293.7,1179.6 1300.5,1177.3 1307.4,1124.2 1314.2,1093.9 1321.1,1063.3 1328.0,1038.6 1334.8,1015.5 1341.7,987.8 1348.5,957.3 1355.4,939.7 1362.2,927.7 1369.1,918.5 1375.9,900.0 1382.8,880.9 1389.6,871.6 1396.5,866.1 1403.3,859.6 1410.2,850.4 1417.0,842.1 1423.9,847.6 1430.7,834.7 1437.6,827.3 1444.4,829.1 1451.3,843.9 1458.1,837.9 1465.0,851.8 1471.8,833.7 1478.7,831.0 1485.5,840.2 1492.4,842.1 1499.2,844.8 1506.1,813.0 1512.9,835.6 1519.8,814.3 1526.6,793.1 1533.5,774.6 1540.3,752.8 1547.2,734.8 1554.0,700.3 1560.9,685.5 1567.7,624.9 1574.6,600.7 1581.4,559.2 1588.3,512.7 1595.1,476.2 1602.0,444.8 1608.8,398.2 1615.7,353.1 1622.5,302.9 1629.4,251.2 1636.2,216.6 1643.1,202.8 1649.9,166.8 1656.8,139.5 1663.6,71.6 1670.5,55.0 1677.3,65.5 1684.2,55.3 1691.0,60.9 1697.9,78.9 1704.7,117.1 1711.6,144.2 1718.4,190.7 1725.3,232.7 1732.1,255.6 1739.0,303.3 1745.8,368.1 1752.7,452.3 1759.5,512.4 1766.4,561.5 1773.2,618.7 1780.1,686.0 1786.9,751.3 1793.8,828.0 1800.6,889.8 1807.5,951.9 1814.3,1007.8 1821.2,1065.8 1828.0,1119.9 1834.9,1171.1 1841.8,1207.8 1848.6,1243.6 1855.5,1277.5 1862.3,1313.0 1869.2,1332.7 1876.0,1354.3 1882.9,1377.5 1889.7,1392.9 1896.6,1407.7 1903.4,1423.3 1910.3,1437.0 1917.1,1446.1 1924.0,1454.2 1930.8,1459.8 1937.7,1462.0 1944.5,1465.3 1951.4,1466.8 1958.2,1469.4 1965.1,1472.0 1971.9,1474.4 1978.8,1475.5 1985.6,1476.6 1992.5,1478.1 1999.3,1478.9 2006.2,1479.6 2013.0,1480.2 2019.9,1480.8 2026.7,1481.3 2033.6,1481.8 2040.4,1482.3 2047.3,1482.7 2054.1,1483.1 2061.0,1483.4 2067.8,1483.7 2074.7,1483.9 2081.5,1484.1 2088.4,1484.3 2095.2,1484.4 2102.1,1484.6 2108.9,1484.7 2115.8,1484.9 2122.6,1485.0 2129.5,1485.1 2136.3,1485.2 2143.2,1485.3 2150.0,1485.5 2156.9,1485.6 2163.7,1485.7 2170.6,1485.8 2177.4,1485.9 2184.3,1485.9 2191.1,1486.0 2198.0,1486.0 2204.8,1486.0 2211.7,1486.0 2218.5,1486.0 2225.4,1486.0 2232.2,1486.0 2239.1,1486.0 2245.9,1486.0 2252.8,1486.0 2259.6,1486.0 2266.5,1486.0 2273.3,1486.0 2280.2,1486.0 2287.0,1486.0 2293.9,1486.0 2300.7,1486.0 2307.6,1486.0 2314.4,1486.0 2321.3,1486.0 2328.1,1486.0 2335.0,1486.0 2341.8,1486.0 2348.7,1486.0"/>
<polyline points="293.5,1420.3 300.4,1436.3 307.2,1424.8 314.1,1456.2 320.9,1457.3 327.8,1442.9 334.6,1434.4 341.5,1415.5 348.3,1434.3 355.2,1437.9 362.0,1434.5 368.9,1436.2 375.7,1442.8 382.6,1453.7 389.4,1446.2 396.3,1458.9 403.1,1448.6 410.0,1448.0 416.8,1447.5 423.7,1459.3 430.5,1457.5 437.4,1457.7 444.2,1449.5 451.1,1452.4 457.9,1452.4 464.8,1449.5 471.6,1438.2 478.5,1452.3 485.3,1450.1 492.2,1451.3 499.0,1467.3 505.9,1443.1 512.7,1452.0 519.6,1462.4 526.4,1447.3 533.3,1435.0 540.1,1462.3 547.0,1436.8 553.8,1447.0 560.7,1438.6 567.5,1430.3 574.4,1455.3 581.2,1440.9 588.1,1430.5 594.9,1440.4 601.8,1439.2 608.6,1464.7 615.5,1444.0 622.3,1453.3 629.2,1444.8 636.0,1435.7 642.9,1448.2 649.7,1420.4 656.6,1447.4 663.4,1448.4 670.3,1439.3 677.1,1439.3 684.0,1437.2 690.8,1445.1 697.7,1441.5 704.5,1441.7 711.4,1436.5 718.2,1408.4 725.1,1421.7 731.9,1446.8 738.8,1433.2 745.6,1438.2 752.5,1438.6 759.3,1419.3 766.2,1452.7 773.0,1434.8 779.9,1445.5 786.7,1440.3 793.6,1419.0 800.4,1434.9 807.3,1450.4 814.2,1435.7 821.0,1434.9 827.9,1441.1 834.7,1438.8 841.6,1435.3 848.4,1423.5 855.3,1439.9 862.1,1451.6 869.0,1431.3 875.8,1437.5 882.7,1431.3 889.5,1432.5 896.4,1433.6 903.2,1435.0 910.1,1417.1 916.9,1440.8 923.8,1444.3 930.6,1431.5 937.5,1426.4 944.3,1436.5 951.2,1426.4 958.0,1431.5 964.9,1442.1 971.7,1420.1 978.6,1419.1 985.4,1430.5 992.3,1427.9 999.1,1435.4 1006.0,1430.2 1012.8,1422.7 1019.7,1429.0 1026.5,1433.2 1033.4,1424.2 1040.2,1414.5 1047.1,1419.1 1053.9,1424.3 1060.8,1415.4 1067.6,1419.0 1074.5,1399.5 1081.3,1405.4 1088.2,1405.7 1095.0,1401.3 1101.9,1387.7 1108.7,1384.8 1115.6,1384.6 1122.4,1380.0 1129.3,1343.8 1136.1,1375.0 1143.0,1349.0 1149.8,1366.9 1156.7,1358.4 1163.5,1337.5 1170.4,1332.6 1177.2,1337.6 1184.1,1335.8 1190.9,1320.8 1197.8,1317.0 1204.6,1301.3 1211.5,1319.9 1218.3,1291.6 1225.2,1307.5 1232.0,1277.9 1238.9,1293.0 1245.7,1268.1 1252.6,1268.3 1259.4,1258.5 1266.3,1242.4 1273.1,1238.6 1280.0,1233.5 1286.8,1225.9 1293.7,1226.7 1300.5,1240.6 1307.4,1177.3 1314.2,1182.7 1321.1,1128.9 1328.0,1092.1 1334.8,1052.0 1341.7,1025.6 1348.5,1002.5 1355.4,992.4 1362.2,982.2 1369.1,950.8 1375.9,926.8 1382.8,907.6 1389.6,900.2 1396.5,890.0 1403.3,889.2 1410.2,909.5 1417.0,900.3 1423.9,879.0 1430.7,872.1 1437.6,881.8 1444.4,887.8 1451.3,866.1 1458.1,878.1 1465.0,879.0 1471.8,877.2 1478.7,866.1 1485.5,872.1 1492.4,873.0 1499.2,898.4 1506.1,842.1 1512.9,885.5 1519.8,876.2 1526.6,853.1 1533.5,825.4 1540.3,811.4 1547.2,775.7 1554.0,776.6 1560.9,744.8 1567.7,716.6 1574.6,663.7 1581.4,603.0 1588.3,577.7 1595.1,526.8 1602.0,483.2 1608.8,454.1 1615.7,420.3 1622.5,373.3 1629.4,319.1 1636.2,276.0 1643.1,233.2 1649.9,181.1 1656.8,165.8 1663.6,127.3 1670.5,72.2 1677.3,53.7 1684.2,46.0 1691.0,50.4 1697.9,62.6 1704.7,92.4 1711.6,153.5 1718.4,187.8 1725.3,224.8 1732.1,251.3 1739.0,298.4 1745.8,343.1 1752.7,436.5 1759.5,503.2 1766.4,565.1 1773.2,612.1 1780.1,669.8 1786.9,719.7 1793.8,818.6 1800.6,885.3 1807.5,945.6 1814.3,1003.5 1821.2,1055.9 1828.0,1115.6 1834.9,1158.1 1841.8,1209.0 1848.6,1250.2 1855.5,1274.3 1862.3,1313.3 1869.2,1330.8 1876.0,1352.8 1882.9,1373.0 1889.7,1390.4 1896.6,1403.2 1903.4,1415.9 1910.3,1431.9 1917.1,1441.0 1924.0,1451.8 1930.8,1457.4 1937.7,1460.5 1944.5,1463.8 1951.4,1465.8 1958.2,1468.3 1965.1,1469.5 1971.9,1473.0 1978.8,1475.5 1985.6,1475.8 1992.5,1477.4 1999.3,1478.2 2006.2,1479.1 2013.0,1479.8 2019.9,1480.4 2026.7,1481.0 2033.6,1481.5 2040.4,1482.0 2047.3,1482.5 2054.1,1483.0 2061.0,1483.4 2067.8,1483.6 2074.7,1483.9 2081.5,1484.1 2088.4,1484.3 2095.2,1484.4 2102.1,1484.6 2108.9,1484.7 2115.8,1484.8 2122.6,1485.0 2129.5,1485.1 2136.3,1485.2 2143.2,1485.3 2150.0,1485.4 2156.9,1485.6 2163.7,1485.7 2170.6,1485.8 2177.4,1485.8 2184.3,1485.9 2191.1,1486.0 2198.0,1486.0 2204.8,1486.0 2211.7,1486.0 2218.5,1486.0 2225.4,1486.0 2232.2,1486.0 2239.1,1486.0 2245.9,1486.0 2252.8,1486.0 2259.6,1486.0 2266.5,1486.0 2273.3,1486.0 2280.2,1486.0 2287.0,1486.0 2293.9,1486.0 2300.7,1486.0 2307.6,1486.0 2314.4,1486.0 2321.3,1486.0 2328.1,1486.0 2335.0,1486.0 2341.8,1486.0 2348.7,1486.0"/>
<polyline points="293.5,1444.4 300.4,1456.4 307.2,1427.8 314.1,1458.2 320.9,1458.2 327.8,1449.0 334.6,1442.5 341.5,1450.9 348.3,1457.3 355.2,1480.4 362.0,1464.7 368.9,1454.5 375.7,1473.9 382.6,1474.9 389.4,1465.6 396.3,1478.6 403.1,1477.6 410.0,1471.2 416.8,1465.6 423.7,1474.9 430.5,1473.9 437.4,1460.1 444.2,1473.9 451.1,1475.8 457.9,1478.6 464.8,1459.2 471.6,1472.1 478.5,1472.1 485.3,1464.7 492.2,1457.5 499.0,1475.0 505.9,1474.1 512.7,1475.0 519.6,1468.0 526.4,1470.6 533.3,1464.5 540.1,1463.6 547.0,1464.5 553.8,1455.7 560.7,1453.1 567.5,1461.0 574.4,1467.1 581.2,1461.9 588.1,1452.2 594.9,1451.4 601.8,1448.7 608.6,1448.7 615.5,1452.2 622.3,1452.2 629.2,1449.6 636.0,1454.0 642.9,1445.2 649.7,1438.2 656.6,1443.5 663.4,1447.9 670.3,1443.5 677.1,1447.9 684.0,1444.2 690.8,1453.0 697.7,1444.5 704.5,1466.0 711.4,1445.4 718.2,1446.0 725.1,1450.5 731.9,1438.7 738.8,1441.8 745.6,1442.5 752.5,1445.0 759.3,1437.0 766.2,1445.8 773.0,1436.7 779.9,1450.8 786.7,1445.2 793.6,1442.8 800.4,1448.9 807.3,1422.2 814.2,1441.6 821.0,1435.0 827.9,1445.7 834.7,1460.0 841.6,1460.7 848.4,1438.9 855.3,1443.4 862.1,1443.8 869.0,1439.1 875.8,1438.5 882.7,1467.7 889.5,1460.4 896.4,1452.9 903.2,1445.8 910.1,1449.5 916.9,1441.4 923.8,1441.4 930.6,1452.5 937.5,1437.0 944.3,1446.0 951.2,1454.0 958.0,1439.0 964.9,1437.0 971.7,1442.5 978.6,1440.4 985.4,1441.1 992.3,1437.4 999.1,1437.4 1006.0,1436.3 1012.8,1422.7 1019.7,1424.3 1026.5,1422.6 1033.4,1431.7 1040.2,1429.0 1047.1,1421.6 1053.9,1412.0 1060.8,1407.4 1067.6,1419.9 1074.5,1417.1 1081.3,1414.9 1088.2,1423.5 1095.0,1411.4 1101.9,1397.3 1108.7,1406.1 1115.6,1407.1 1122.4,1409.3 1129.3,1375.7 1136.1,1385.3 1143.0,1383.3 1149.8,1377.2 1156.7,1373.7 1163.5,1367.8 1170.4,1357.8 1177.2,1346.5 1184.1,1346.9 1190.9,1338.7 1197.8,1344.0 1204.6,1344.4 1211.5,1306.7 1218.3,1296.8 1225.2,1325.1 1232.0,1354.1 1238.9,1308.3 1245.7,1314.0 1252.6,1310.2 1259.4,1302.5 1266.3,1289.4 1273.1,1301.7 1280.0,1256.5 1286.8,1270.7 1293.7,1266.8 1300.5,1294.3 1307.4,1241.4 1314.2,1235.1 1321.1,1223.6 1328.0,1174.9 1334.8,1143.9 1341.7,1085.4 1348.5,1047.8 1355.4,1024.7 1362.2,1013.6 1369.1,1004.4 1375.9,983.0 1382.8,962.8 1389.6,955.4 1396.5,960.0 1403.3,954.7 1410.2,935.3 1417.0,946.4 1423.9,938.0 1430.7,911.7 1437.6,934.3 1444.4,925.1 1451.3,907.1 1458.1,905.2 1465.0,918.6 1471.8,919.6 1478.7,905.7 1485.5,932.5 1492.4,925.1 1499.2,942.7 1506.1,905.7 1512.9,935.3 1519.8,930.0 1526.6,925.0 1533.5,890.0 1540.3,849.0 1547.2,856.0 1554.0,810.0 1560.9,814.0 1567.7,760.0 1574.6,723.1 1581.4,657.2 1588.3,595.8 1595.1,521.1 1602.0,512.2 1608.8,463.0 1615.7,469.4 1622.5,407.9 1629.4,331.3 1636.2,273.7 1643.1,234.2 1649.9,192.0 1656.8,144.0 1663.6,161.0 1670.5,95.0 1677.3,87.6 1684.2,73.6 1691.0,46.0 1697.9,82.6 1704.7,98.8 1711.6,140.0 1718.4,182.8 1725.3,189.6 1732.1,194.7 1739.0,284.0 1745.8,328.6 1752.7,420.8 1759.5,470.4 1766.4,568.0 1773.2,597.8 1780.1,664.7 1786.9,711.9 1793.8,782.5 1800.6,882.2 1807.5,949.6 1814.3,990.1 1821.2,1060.2 1828.0,1099.2 1834.9,1153.0 1841.8,1195.9 1848.6,1237.4 1855.5,1270.8 1862.3,1300.9 1869.2,1333.6 1876.0,1351.3 1882.9,1366.9 1889.7,1384.4 1896.6,1396.4 1903.4,1410.3 1910.3,1429.8 1917.1,1438.3 1924.0,1447.6 1930.8,1455.0 1937.7,1458.5 1944.5,1461.5 1951.4,1464.5 1958.2,1465.6 1965.1,1470.6 1971.9,1471.3 1978.8,1473.3 1985.6,1474.3 1992.5,1476.6 1999.3,1478.2 2006.2,1478.6 2013.0,1479.3 2019.9,1480.0 2026.7,1480.6 2033.6,1481.1 2040.4,1481.7 2047.3,1482.3 2054.1,1482.8 2061.0,1483.3 2067.8,1483.6 2074.7,1483.8 2081.5,1484.0 2088.4,1484.2 2095.2,1484.4 2102.1,1484.6 2108.9,1484.7 2115.8,1484.8 2122.6,1484.9 2129.5,1485.1 2136.3,1485.2 2143.2,1485.3 2150.0,1485.4 2156.9,1485.5 2163.7,1485.6 2170.6,1485.7 2177.4,1485.8 2184.3,1485.9 2191.1,1485.9 2198.0,1486.0 2204.8,1486.0 2211.7,1486.0 2218.5,1486.0 2225.4,1486.0 2232.2,1486.0 2239.1,1486.0 2245.9,1486.0 2252.8,1486.0 2259.6,1486.0 2266.5,1486.0 2273.3,1486.0 2280.2,1486.0 2287.0,1486.0 2293.9,1486.0 2300.7,1486.0 2307.6,1486.0 2314.4,1486.0 2321.3,1486.0 2328.1,1486.0 2335.0,1486.0 2341.8,1486.0 2348.7,1486.0"/>
<polyline points="293.5,1404.7 300.4,1413.0 307.2,1403.7 314.1,1416.7 320.9,1416.7 327.8,1385.3 334.6,1383.4 341.5,1397.3 348.3,1455.5 355.2,1480.4 362.0,1413.9 368.9,1367.7 375.7,1413.9 382.6,1421.3 389.4,1416.7 396.3,1425.9 403.1,1403.7 410.0,1421.3 416.8,1391.7 423.7,1383.0 430.5,1426.8 437.4,1383.0 444.2,1400.0 451.1,1400.5 457.9,1399.1 464.8,1365.9 471.6,1416.7 478.5,1436.1 485.3,1409.3 492.2,1391.9 499.0,1431.2 505.9,1440.0 512.7,1483.7 519.6,1383.1 526.4,1410.2 533.3,1403.2 540.1,1395.4 547.0,1404.1 553.8,1384.9 560.7,1391.0 567.5,1440.0 574.4,1467.1 581.2,1457.5 588.1,1431.2 594.9,1412.0 601.8,1364.7 608.6,1400.6 615.5,1389.2 622.3,1422.5 629.2,1395.4 636.0,1433.0 642.9,1422.5 649.7,1398.0 656.6,1422.5 663.4,1368.2 670.3,1387.5 677.1,1426.0 684.0,1415.7 690.8,1445.1 697.7,1434.5 704.5,1432.0 711.4,1432.2 718.2,1430.6 725.1,1430.6 731.9,1436.3 738.8,1381.4 745.6,1423.2 752.5,1430.4 759.3,1426.0 766.2,1437.3 773.0,1428.5 779.9,1422.0 786.7,1432.5 793.6,1433.6 800.4,1440.8 807.3,1434.7 814.2,1441.1 821.0,1385.7 827.9,1454.5 834.7,1433.5 841.6,1436.1 848.4,1427.6 855.3,1436.2 862.1,1428.6 869.0,1434.6 875.8,1433.3 882.7,1442.9 889.5,1448.3 896.4,1386.6 903.2,1429.3 910.1,1419.3 916.9,1449.6 923.8,1434.5 930.6,1445.8 937.5,1409.2 944.3,1446.2 951.2,1442.6 958.0,1445.0 964.9,1442.5 971.7,1430.4 978.6,1417.8 985.4,1438.3 992.3,1430.6 999.1,1432.8 1006.0,1427.2 1012.8,1458.0 1019.7,1429.7 1026.5,1454.0 1033.4,1428.6 1040.2,1424.8 1047.1,1459.0 1053.9,1438.5 1060.8,1429.9 1067.6,1421.6 1074.5,1420.0 1081.3,1414.2 1088.2,1417.6 1095.0,1420.0 1101.9,1415.1 1108.7,1410.2 1115.6,1375.0 1122.4,1381.9 1129.3,1396.7 1136.1,1392.2 1143.0,1366.2 1149.8,1385.4 1156.7,1428.3 1163.5,1357.5 1170.4,1379.8 1177.2,1373.1 1184.1,1360.6 1190.9,1340.4 1197.8,1357.4 1204.6,1343.5 1211.5,1352.6 1218.3,1332.7 1225.2,1351.6 1232.0,1323.2 1238.9,1308.1 1245.7,1327.6 1252.6,1325.1 1259.4,1314.2 1266.3,1299.2 1273.1,1294.5 1280.0,1286.0 1286.8,1319.1 1293.7,1293.9 1300.5,1265.4 1307.4,1294.9 1314.2,1261.6 1321.1,1242.4 1328.0,1252.5 1334.8,1242.1 1341.7,1229.2 1348.5,1211.4 1355.4,1182.6 1362.2,1139.4 1369.1,1047.8 1375.9,1032.0 1382.8,1024.7 1389.6,1012.0 1396.5,997.0 1403.3,1004.5 1410.2,953.7 1417.0,1003.6 1423.9,949.1 1430.7,942.7 1437.6,947.3 1444.4,973.1 1451.3,931.6 1458.1,920.0 1465.0,966.7 1471.8,983.3 1478.7,938.0 1485.5,968.5 1492.4,991.6 1499.2,969.4 1506.1,925.1 1512.9,936.2 1519.8,940.0 1526.6,932.0 1533.5,876.0 1540.3,889.0 1547.2,917.0 1554.0,840.0 1560.9,800.0 1567.7,742.0 1574.6,791.0 1581.4,722.0 1588.3,648.6 1595.1,607.1 1602.0,527.3 1608.8,470.7 1615.7,420.5 1622.5,408.7 1629.4,361.1 1636.2,312.0 1643.1,244.2 1649.9,250.0 1656.8,192.0 1663.6,171.0 1670.5,157.0 1677.3,137.0 1684.2,100.0 1691.0,52.0 1697.9,60.0 1704.7,92.0 1711.6,122.0 1718.4,155.0 1725.3,128.0 1732.1,234.0 1739.0,270.0 1745.8,332.9 1752.7,369.8 1759.5,436.7 1766.4,534.1 1773.2,605.6 1780.1,651.0 1786.9,729.2 1793.8,786.1 1800.6,873.0 1807.5,933.0 1814.3,989.7 1821.2,1049.9 1828.0,1104.9 1834.9,1152.5 1841.8,1190.7 1848.6,1248.6 1855.5,1296.6 1862.3,1292.0 1869.2,1327.0 1876.0,1338.2 1882.9,1361.7 1889.7,1384.2 1896.6,1397.9 1903.4,1399.1 1910.3,1417.6 1917.1,1435.4 1924.0,1443.3 1930.8,1453.5 1937.7,1456.1 1944.5,1461.1 1951.4,1462.9 1958.2,1464.1 1965.1,1467.6 1971.9,1470.2 1978.8,1472.2 1985.6,1473.4 1992.5,1475.6 1999.3,1477.0 2006.2,1478.0 2013.0,1478.8 2019.9,1479.5 2026.7,1480.2 2033.6,1480.7 2040.4,1481.3 2047.3,1481.9 2054.1,1482.6 2061.0,1483.1 2067.8,1483.5 2074.7,1483.8 2081.5,1484.0 2088.4,1484.2 2095.2,1484.4 2102.1,1484.5 2108.9,1484.7 2115.8,1484.8 2122.6,1484.9 2129.5,1485.0 2136.3,1485.2 2143.2,1485.3 2150.0,1485.4 2156.9,1485.5 2163.7,1485.6 2170.6,1485.7 2177.4,1485.8 2184.3,1485.9 2191.1,1485.9 2198.0,1486.0 2204.8,1486.0 2211.7,1486.0 2218.5,1486.0 2225.4,1486.0 2232.2,1486.0 2239.1,1486.0 2245.9,1486.0 2252.8,1486.0 2259.6,1486.0 2266.5,1486.0 2273.3,1486.0 2280.2,1486.0 2287.0,1486.0 2293.9,1486.0 2300.7,1486.0 2307.6,1486.0 2314.4,1486.0 2321.3,1486.0 2328.1,1486.0 2335.0,1486.0 2341.8,1486.0 2348.7,1486.0"/>
</g>
<g fill="#000" stroke="none">
<rect x="262.30" y="43.05" width="2089.80" height="6.00"/>
<rect x="262.30" y="1484.00" width="2089.80" height="6.00"/>
<rect x="290.00" y="43.05" width="6.90" height="1473.95"/>
<rect x="2345.20" y="43.05" width="6.90" height="1473.95"/>
<rect x="461.22" y="1487.00" width="7.00" height="16.80"/>
<rect x="632.48" y="1487.00" width="7.00" height="30.00"/>
<rect x="803.75" y="1487.00" width="7.00" height="16.80"/>
<rect x="975.02" y="1487.00" width="7.00" height="30.00"/>
<rect x="1146.28" y="1487.00" width="7.00" height="16.80"/>
<rect x="1317.55" y="1487.00" width="7.00" height="30.00"/>
<rect x="1488.82" y="1487.00" width="7.00" height="16.80"/>
<rect x="1660.08" y="1487.00" width="7.00" height="30.00"/>
<rect x="1831.35" y="1487.00" width="7.00" height="16.80"/>
<rect x="2002.62" y="1487.00" width="7.00" height="30.00"/>
<rect x="2173.88" y="1487.00" width="7.00" height="16.80"/>
<rect x="262.30" y="763.32" width="31.15" height="6.40"/>
<rect x="276.50" y="1123.56" width="16.95" height="6.40"/>
<rect x="276.50" y="403.09" width="16.95" height="6.40"/>
</g>
<g font-size="54.5px">
<text transform="translate(293.4,1576.2) scale(1,1.040)" text-anchor="middle">350</text>
<text transform="translate(636.0,1576.2) scale(1,1.040)" text-anchor="middle">400</text>
<text transform="translate(978.5,1576.2) scale(1,1.040)" text-anchor="middle">450</text>
<text transform="translate(1321.1,1576.2) scale(1,1.040)" text-anchor="middle">500</text>
<text transform="translate(1663.6,1576.2) scale(1,1.040)" text-anchor="middle">550</text>
<text transform="translate(2006.1,1576.2) scale(1,1.040)" text-anchor="middle">600</text>
<text transform="translate(2348.7,1576.2) scale(1,1.040)" text-anchor="middle">650</text>
<text transform="translate(247.5,1502.3) scale(1,1.040)" text-anchor="end">0,0</text>
<text transform="translate(247.5,781.8) scale(1,1.040)" text-anchor="end">0,5</text>
<text transform="translate(247.5,61.3) scale(1,1.040)" text-anchor="end">1,0</text>
</g>
<text x="1322.2" y="1683" font-size="68.5px" text-anchor="middle">Wavelength (nm)</text>
<text transform="translate(67.1,972.5) rotate(-90)" font-size="68.5px">F<tspan font-size="40.5px" dy="27">dye</tspan><tspan dy="-27"> (R) (a.u.)</tspan></text>
<g stroke="#000" fill="#000">
<line x1="1507.2" y1="1012.6" x2="1392.0" y2="680.7" stroke-width="7.8" stroke-linecap="butt"/>
<polygon points="1382.3,652.8 1411.7,681.2 1392.0,680.7 1376.8,693.4" stroke-width="3" stroke-linejoin="round"/>
</g>
<rect x="424.5" y="75.0" width="869.0" height="567.1" fill="#fff"/>
<g fill="#000" stroke="none">
<rect x="411.90" y="73.00" width="883.10" height="3.90"/>
<rect x="411.90" y="640.10" width="883.10" height="3.90"/>
<rect x="423.00" y="73.00" width="3.00" height="581.70"/>
<rect x="1292.00" y="73.00" width="3.00" height="575.70"/>
<rect x="519.56" y="642.05" width="3.00" height="6.65"/>
<rect x="616.11" y="642.05" width="3.00" height="12.65"/>
<rect x="712.67" y="642.05" width="3.00" height="6.65"/>
<rect x="809.22" y="642.05" width="3.00" height="12.65"/>
<rect x="905.78" y="642.05" width="3.00" height="6.65"/>
<rect x="1002.33" y="642.05" width="3.00" height="12.65"/>
<rect x="1098.89" y="642.05" width="3.00" height="6.65"/>
<rect x="1195.44" y="642.05" width="3.00" height="12.65"/>
<rect x="417.40" y="600.04" width="7.10" height="3.00"/>
<rect x="411.90" y="559.29" width="12.60" height="3.50"/>
<rect x="417.40" y="519.03" width="7.10" height="3.00"/>
<rect x="411.90" y="478.27" width="12.60" height="3.50"/>
<rect x="417.40" y="438.01" width="7.10" height="3.00"/>
<rect x="411.90" y="397.26" width="12.60" height="3.50"/>
<rect x="417.40" y="357.00" width="7.10" height="3.00"/>
<rect x="411.90" y="316.24" width="12.60" height="3.50"/>
<rect x="417.40" y="275.99" width="7.10" height="3.00"/>
<rect x="411.90" y="235.23" width="12.60" height="3.50"/>
<rect x="417.40" y="194.97" width="7.10" height="3.00"/>
<rect x="411.90" y="154.21" width="12.60" height="3.50"/>
<rect x="417.40" y="113.96" width="7.10" height="3.00"/>
</g>
<line x1="424.5" y1="641.6" x2="1283.3" y2="75.4" stroke="#000" stroke-width="2.3"/>
<g fill="#000">
<rect x="423.0" y="623.2" width="12.8" height="17.5"/>
<rect x="427.1" y="623.2" width="13.8" height="12.7"/>
<rect x="436.1" y="614.0" width="13.8" height="13.8"/>
<rect x="465.1" y="605.1" width="13.8" height="13.8"/>
<rect x="513.9" y="568.0" width="13.8" height="13.8"/>
<rect x="562.0" y="553.6" width="13.8" height="13.8"/>
<rect x="610.1" y="488.4" width="13.8" height="13.8"/>
<rect x="707.2" y="463.1" width="13.8" height="13.8"/>
<rect x="803.9" y="359.4" width="13.8" height="13.8"/>
<rect x="1190.1" y="131.1" width="13.8" height="13.8"/>
</g>
<g font-size="21px">
<text transform="translate(424.5,677.0) scale(1,1.040)" text-anchor="middle">0</text>
<text transform="translate(617.6,677.0) scale(1,1.040)" text-anchor="middle">1</text>
<text transform="translate(810.7,677.0) scale(1,1.040)" text-anchor="middle">2</text>
<text transform="translate(1003.8,677.0) scale(1,1.040)" text-anchor="middle">3</text>
<text transform="translate(1196.9,677.0) scale(1,1.040)" text-anchor="middle">4</text>
<text transform="translate(406.5,646.0) scale(1,1.040)" text-anchor="end">0,0</text>
<text transform="translate(406.5,565.0) scale(1,1.040)" text-anchor="end">0,2</text>
<text transform="translate(406.5,484.0) scale(1,1.040)" text-anchor="end">0,4</text>
<text transform="translate(406.5,403.0) scale(1,1.040)" text-anchor="end">0,6</text>
<text transform="translate(406.5,322.0) scale(1,1.040)" text-anchor="end">0,8</text>
<text transform="translate(406.5,241.0) scale(1,1.040)" text-anchor="end">1,0</text>
<text transform="translate(406.5,160.0) scale(1,1.040)" text-anchor="end">1,2</text>
<text transform="translate(406.5,78.9) scale(1,1.040)" text-anchor="end">1,4</text>
</g>
<text x="859" y="737" font-size="33.5px" text-anchor="middle">[PhB] (µmol.g<tspan font-size="20.5px" dy="-20">-1</tspan><tspan dy="20">)</tspan></text>
<text transform="translate(346.9,482.5) rotate(-90)" font-size="34.3px">F<tspan font-size="20px" dy="13.5">dye</tspan><tspan dy="-13.5"> (R) (a.u.)</tspan></text>
<text transform="translate(1035,620.2) scale(1,1.04)" font-size="58.6px">R<tspan font-size="34.5px" dy="-31.5">2</tspan><tspan dy="31.5">=0.995</tspan></text>
</svg>
</body></html>
